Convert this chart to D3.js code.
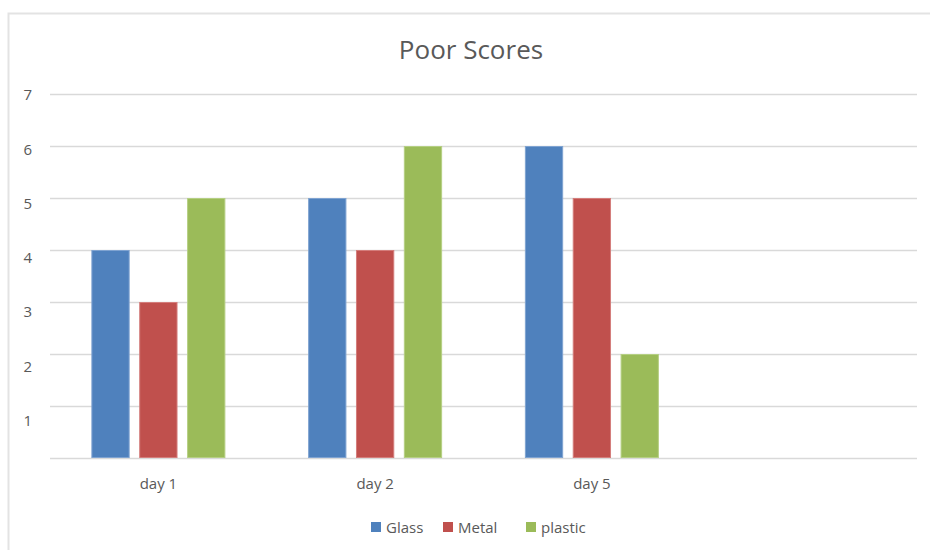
<!DOCTYPE html>
<html>
<head>
<meta charset="utf-8">
<script src="https://cdn.jsdelivr.net/npm/d3@7"></script>
<style>
  html, body { margin: 0; padding: 0; background: #fff; }
  svg { display: block; font-family: "Open Sans", "Noto Sans", sans-serif; }
</style>
</head>
<body>
<svg id="chart" width="930" height="550"></svg>
<script>
// Poor scores per material, by day
const categories = ["day 1", "day 2", "day 5"];
const seriesNames = ["Glass", "Metal", "plastic"];
const glass = [4, 5, 6];
const metal = [3, 4, 5];
const plastic = [5, 6, 2];
const yTicks = [1, 2, 3, 4, 5, 6, 7];

const seriesValues = [glass, metal, plastic];
const colors = ["#4F81BD", "#C0504D", "#9BBB59"];
const strokes = ["#7fa3d1", "#d47d7b", "#b5cf83"];

const svg = d3.select("#chart");
const W = 930, H = 550;

// chart frame
svg.append("rect")
  .attr("x", 8.5).attr("y", 13.5)
  .attr("width", W + 20).attr("height", H + 20)
  .attr("fill", "#fff")
  .attr("stroke", "#e3e3e3").attr("stroke-width", 2);

// plot area: the category axis reserves four slots, only three are filled
const slotCount = 4;
const plot = { left: 50, right: 917, top: 94, bottom: 458 };

const x0 = d3.scaleBand()
  .domain(d3.range(slotCount))
  .range([plot.left, plot.right])
  .paddingInner(0).paddingOuter(0);

const groupWidth = 134;
const x1 = d3.scaleBand()
  .domain(d3.range(seriesNames.length))
  .range([0, groupWidth])
  .paddingInner(0.2).paddingOuter(0);

const y = d3.scaleLinear().domain([0, 7]).range([plot.bottom, plot.top]);
// value labels sit on a slightly taller scale than the gridlines
const yLabel = d3.scaleLinear().domain([0, 7]).range([475, 95]);

// gridlines
const gy = svg.append("g")
  .attr("transform", `translate(${plot.left},0)`)
  .call(d3.axisLeft(y)
    .tickValues([0].concat(yTicks))
    .tickSize(-(plot.right - plot.left))
    .tickFormat(""));
gy.select(".domain").remove();
gy.selectAll(".tick line").attr("stroke", "#d9d9d9").attr("stroke-width", 1.3);

// value axis labels
svg.append("g").selectAll("text")
  .data(yTicks)
  .join("text")
  .attr("x", 32)
  .attr("y", d => yLabel(d))
  .attr("dy", "0.35em")
  .attr("text-anchor", "end")
  .attr("fill", "#595959")
  .style("font-size", "15px")
  .text(d => d3.format("d")(d));

// bars
const groups = svg.append("g").selectAll("g")
  .data(categories)
  .join("g")
  .attr("transform", (d, i) => `translate(${x0(i) + (x0.bandwidth() - groupWidth) / 2},0)`);

groups.selectAll("rect")
  .data((d, i) => seriesValues.map((vals, s) => ({ s, v: vals[i] })))
  .join("rect")
  .attr("x", d => x1(d.s) + 0.5)
  .attr("y", d => y(d.v) + 0.5)
  .attr("width", x1.bandwidth() - 1)
  .attr("height", d => y(0) - y(d.v) - 1)
  .attr("fill", d => colors[d.s])
  .attr("stroke", d => strokes[d.s])
  .attr("stroke-width", 1);

// category labels
svg.append("g").selectAll("text")
  .data(categories)
  .join("text")
  .attr("x", (d, i) => x0(i) + x0.bandwidth() / 2)
  .attr("y", 489)
  .attr("text-anchor", "middle")
  .attr("fill", "#595959")
  .style("font-size", "15px")
  .text(d => d);

// title
svg.append("text")
  .attr("x", 471)
  .attr("y", 59)
  .attr("text-anchor", "middle")
  .attr("fill", "#595959")
  .style("font-size", "26px")
  .text("Poor Scores");

// legend
const legendX = [371, 443, 526];
const legend = svg.append("g").selectAll("g")
  .data(seriesNames)
  .join("g")
  .attr("transform", (d, i) => `translate(${legendX[i]},522)`);
legend.append("rect")
  .attr("width", 10).attr("height", 10)
  .attr("fill", (d, i) => colors[i]);
legend.append("text")
  .attr("x", 15).attr("y", 10.5)
  .attr("fill", "#595959")
  .style("font-size", "15px")
  .text(d => d);
</script>
</body>
</html>
